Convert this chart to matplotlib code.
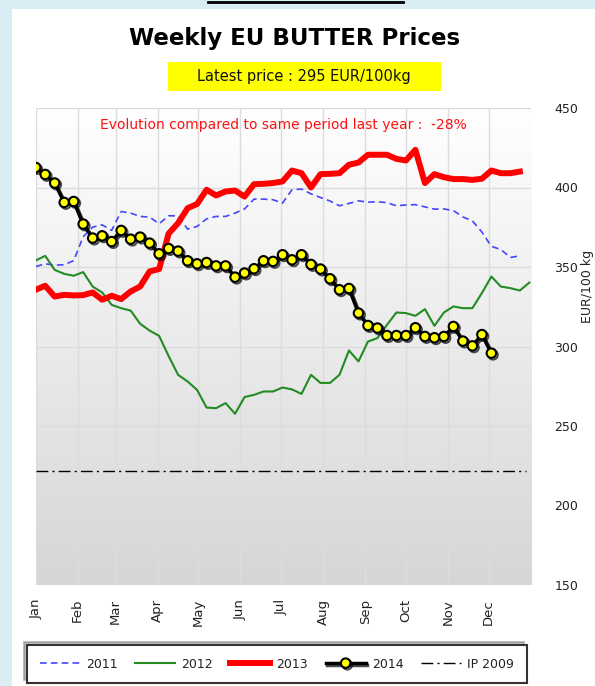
import matplotlib.pyplot as plt
import matplotlib.patheffects as pe
import numpy as np
from matplotlib.colors import LinearSegmentedColormap
from matplotlib.lines import Line2D
from matplotlib.patches import Rectangle

# weekly prices, EUR/100kg, one value per week from the start of the year
prices_2011 = [350.3, 352.0, 351.2, 351.4, 354.0, 369.0, 375.1, 376.5, 373.0, 384.9,
               383.9, 381.8, 381.4, 377.2, 382.2, 382.2, 373.8, 375.5, 380.3, 381.8,
               381.8, 383.9, 386.5, 392.7, 392.7, 392.3, 390.2, 398.6, 399.0, 396.0,
               393.7, 391.5, 388.5, 390.0, 391.6, 390.8, 391.0, 390.5, 388.5, 389.0,
               389.2, 387.8, 386.4, 386.5, 385.5, 381.5, 379.0, 372.0, 363.0, 361.0,
               356.0, 357.0]
prices_2012 = [354.1, 357.0, 348.2, 345.7, 344.5, 346.8, 337.7, 334.0, 326.2, 324.1,
               322.6, 314.3, 310.0, 306.7, 294.0, 282.2, 278.0, 272.7, 261.6, 261.2,
               264.4, 257.7, 268.2, 269.6, 271.7, 271.7, 274.2, 273.0, 270.2, 282.2,
               277.1, 277.1, 282.2, 297.5, 290.6, 303.1, 305.3, 313.6, 321.4, 321.0,
               319.3, 323.5, 313.0, 321.4, 325.2, 324.1, 324.1, 333.6, 344.0, 337.7,
               336.7, 335.2, 340.2]
prices_2013 = [335.7, 338.2, 331.4, 332.5, 332.1, 332.3, 334.0, 329.4, 331.9, 329.8,
               334.6, 337.7, 347.2, 348.7, 371.0, 377.6, 387.0, 389.6, 398.6, 395.0,
               397.5, 398.1, 394.3, 402.1, 402.3, 402.8, 403.8, 410.7, 409.0, 400.0,
               408.4, 408.6, 409.0, 414.3, 415.7, 420.6, 420.6, 420.6, 418.0, 417.0,
               423.7, 402.8, 408.4, 406.5, 405.3, 405.3, 404.8, 405.5, 410.7, 409.0,
               409.0, 410.0]
prices_2014 = [412.6, 408.2, 402.8, 390.6, 391.2, 377.0, 368.2, 369.6, 366.0, 373.0,
               367.5, 368.8, 365.0, 358.3, 361.6, 360.0, 353.9, 352.0, 352.8, 350.7,
               350.7, 343.6, 346.2, 348.9, 353.9, 353.5, 357.7, 354.5, 357.7, 351.6,
               348.7, 342.6, 335.7, 336.5, 321.0, 313.2, 311.6, 306.9, 306.9, 306.9,
               311.8, 306.3, 305.5, 306.3, 312.6, 303.4, 300.4, 307.5, 295.8]
intervention_price = 221.75

months = ["Jan", "Feb", "Mar", "Apr", "May", "Jun", "Jul", "Aug", "Sep", "Oct", "Nov", "Dec"]
month_start_days = [0, 31, 59, 90, 120, 151, 181, 212, 243, 273, 304, 334]
y_ticks = [150, 200, 250, 300, 350, 400, 450]

latest_price = 295
evolution = -28


def week_days(values):
    return np.arange(len(values)) * 7


W, H = 595, 686
fig = plt.figure(figsize=(W / 100, H / 100), dpi=100, facecolor="#dbedf4")

# white page behind the chart
fig.patches.append(Rectangle((12 / W, 0), 1, (H - 9) / H, transform=fig.transFigure,
                             facecolor="white", edgecolor="none", zorder=-5))
fig.lines.append(Line2D([208 / W, 403 / W], [1 - 1.5 / H, 1 - 1.5 / H],
                        transform=fig.transFigure, color="black", lw=2))
# yellow box behind the latest price
fig.patches.append(Rectangle((168 / W, 1 - 91 / H), 273 / W, 29 / H, transform=fig.transFigure,
                             facecolor="#ffff00", edgecolor="none", zorder=-4))

ax = fig.add_axes([35.7 / W, 101 / H, 495 / W, 477 / H])
ax.set_xlim(0, 365)
ax.set_ylim(150, 450)

bg = LinearSegmentedColormap.from_list("bg", ["#d6d6d6", "#ffffff"])
ax.imshow(np.linspace(0, 1, 256).reshape(-1, 1), cmap=bg, origin="lower",
          extent=[0, 365, 150, 450], aspect="auto", zorder=0)

ax.set_xticks(month_start_days)
ax.set_xticklabels(months, rotation=90, fontsize=9.5, color="#222222")
ax.set_yticks(y_ticks)
ax.yaxis.tick_right()
ax.tick_params(axis="y", length=0, pad=17, labelsize=9, labelcolor="#222222")
ax.tick_params(axis="x", length=0, pad=10)
ax.grid(color="#dcdcdc", lw=1, zorder=1)
ax.set_axisbelow(True)
for spine in ax.spines.values():
    spine.set_visible(False)

ax.plot(week_days(prices_2011), prices_2011, color="#4646ff", lw=1.2,
        dashes=(4, 2.5), label="2011", zorder=3)
ax.plot(week_days(prices_2012), prices_2012, color="#228b22", lw=1.5,
        label="2012", zorder=3)
ax.plot(week_days(prices_2013), prices_2013, color="#ff0000", lw=4.3,
        label="2013", zorder=3)
ax.plot(week_days(prices_2014), prices_2014, color="black", lw=2.5, marker="o",
        markersize=6.8, markerfacecolor="#ffff00", markeredgecolor="black",
        markeredgewidth=1.5, label="2014", zorder=4,
        path_effects=[pe.SimpleLineShadow(offset=(1.2, -1.2), shadow_color="black", alpha=0.7),
                      pe.Normal()])
ax.axhline(intervention_price, xmin=0, xmax=0.99, color="black", lw=1,
           dashes=(8.5, 3, 1.5, 3), label="IP 2009", zorder=3)

ax.text(0.5, 0.965, f"Evolution compared to same period last year :  {evolution}%",
        transform=ax.transAxes, ha="center", va="center", color="#ff1010", fontsize=10)

fig.text(295 / W, 1 - 39 / H, "Weekly EU BUTTER Prices", ha="center", va="center",
         fontsize=16.5, fontweight="bold", color="black")
fig.text(304 / W, 1 - 76 / H, f"Latest price : {latest_price} EUR/100kg", ha="center",
         va="center", fontsize=10.5, color="#111111")
fig.text(587 / W, 1 - 286 / H, "EUR/100 kg", rotation=90, ha="center", va="center",
         fontsize=9, color="#222222")

handles, labels = ax.get_legend_handles_labels()
leg = fig.legend(handles, labels, loc="upper left", bbox_to_anchor=(27 / W, 1 - 645 / H),
                 ncol=5, fontsize=9, frameon=True, fancybox=False, borderpad=1.0,
                 borderaxespad=0, handlelength=3.2, handletextpad=0.5, columnspacing=1.4,
                 shadow={"ox": -2, "oy": 2, "shade": 0.5})
leg.get_frame().set_edgecolor("#333333")
leg.get_frame().set_linewidth(1.5)
for text in leg.get_texts():
    text.set_color("#222222")

fig.savefig("out.png", dpi=100, facecolor=fig.get_facecolor())
